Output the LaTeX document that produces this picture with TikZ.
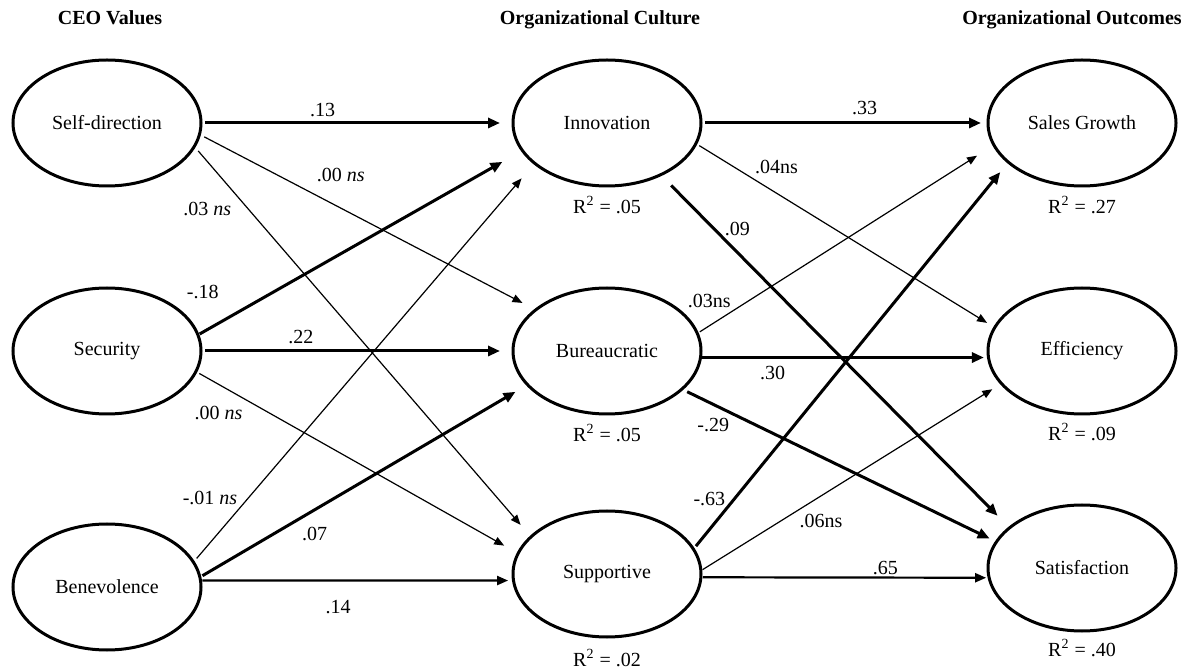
\documentclass[tikz,border=0pt]{standalone}
\usepackage{fontspec}
\setmainfont{Liberation Serif}
\usepackage{tikz}
\usetikzlibrary{shapes, arrows.meta, positioning}
\tikzset{
    construct/.style={
        ellipse,
        draw=black,
        line width=1.5pt,
        minimum width=94pt,
        minimum height=63pt,
        inner sep=0pt,
        outer sep=0pt,
    },
    heading/.style={
        font=\bfseries,
    },
    rsq/.style={
        inner sep=1pt,
    },
    coef/.style={
        inner sep=1pt,
    },
    sig/.style={
        line width=1.5pt,
        -{Triangle[length=6pt,width=5pt]},
    },
    medsig/.style={
        line width=1.1pt,
        -{Triangle[length=5.5pt,width=4.5pt]},
    },
    nsig/.style={
        line width=0.6pt,
        -{Triangle[length=5pt,width=4pt]},
    },
}

\begin{document}
\begin{tikzpicture}[on grid]
      \useasboundingbox (-53.5pt,61.5pt) rectangle (541pt,-272.5pt);
      \node[construct] (sd) {Self-direction};
      \node[construct, below=114pt of sd] (sec) {Security};
      \node[construct, below=118pt of sec] (ben) {Benevolence};
      \node[construct, right=250pt of sd] (inn) {Innovation};
      \node[construct, right=250pt of sec] (bur) {Bureaucratic};
      \node[construct, below=111.5pt of bur] (sup) {Supportive};
      \node[construct, right=237.5pt of inn] (sg) {Sales Growth};
      \node[construct, right=237.5pt of bur] (eff) {Efficiency};
      \node[construct, below=108.5pt of eff] (sat) {Satisfaction};

      \node[heading, above=52.5pt of sd, xshift=1.5pt] (ceo) {CEO Values};
      \node[heading, above=51.5pt of inn, xshift=-3.5pt] (cult) {Organizational Culture};
      \node[heading, above=51.5pt of sg, xshift=-5pt] (outc) {Organizational Outcomes};

      \node[rsq, below=41pt of inn] (inn-r) {R\textsuperscript{2} = .05};
      \node[rsq, below=41pt of bur] (bur-r) {R\textsuperscript{2} = .05};
      \node[rsq, below=42pt of sup] (sup-r) {R\textsuperscript{2} = .02};
      \node[rsq, below=41pt of sg] (sg-r) {R\textsuperscript{2} = .27};
      \node[rsq, below=40.5pt of eff] (eff-r) {R\textsuperscript{2} = .09};
      \node[rsq, below=40pt of sat] (sat-r) {R\textsuperscript{2} = .40};

      \draw[sig, shorten <=2pt, shorten >=6.5pt] (sd.east) -- (inn.west) node[coef, pos=.39, yshift=6.5pt] {.13};
      \draw[nsig, shorten <=2.7pt, shorten >=7.5pt] (sd.-7) -- (bur.150) node[coef, pos=.42, yshift=16.3pt] {.00 \textit{ns}};
      \draw[nsig, shorten <=3pt, shorten >=8pt] (sd.-15) -- (sup.154) node[coef, pos=.16, xshift=-20.5pt] {.03 \textit{ns}};
      \draw[sig, shorten <=1pt, shorten >=11.5pt] (sec.10) -- (inn.-162) node[coef, pos=.015, yshift=20pt] {-.18};
      \draw[sig, shorten <=2pt, shorten >=6.5pt] (sec.east) -- (bur.west) node[coef, pos=.32, yshift=7pt] {.22};
      \draw[nsig, shorten <=2pt, shorten >=8pt] (sec.-13) -- (sup.167) node[coef, pos=.07, yshift=-14.3pt] {.00 \textit{ns}};
      \draw[nsig, shorten <=2.5pt, shorten >=10pt] (ben.16) -- (inn.-151) node[coef, pos=.16, xshift=-19pt] {-.01 \textit{ns}};
      \draw[sig, shorten <=1.5pt, shorten >=7pt] (ben.6) -- (bur.-157) node[coef, pos=.35, yshift=-12pt] {.07};
      \draw[medsig, shorten <=1pt, shorten >=2.7pt] (ben.4) -- (sup.184) node[coef, pos=.44, yshift=-13.5pt] {.14};

      \draw[sig, shorten <=2pt, shorten >=3.5pt] (inn.east) -- (sg.west) node[coef, pos=.57, yshift=7.5pt] {.33};
      \draw[nsig, shorten <=2pt, shorten >=4.5pt] (inn.-13) -- (eff.165) node[coef, pos=.27, yshift=13.3pt] {.04ns};
      \draw[sig, shorten <=7.5pt, shorten >=8.5pt] (inn.-44) -- (sat.151) node[coef, pos=.22, yshift=11.8pt] {.09};
      \draw[nsig, shorten <=1.5pt, shorten >=10pt] (bur.11) -- (sg.-166) node[coef, pos=.04, yshift=12.7pt] {.03ns};
      \draw[sig, shorten <=1pt, shorten >=2.3pt] (bur.-4) -- (eff.184) node[coef, pos=.25, yshift=-7.5pt] {.30};
      \draw[sig, shorten <=3pt, shorten >=3.8pt] (bur.-27) -- (sat.163) node[coef, pos=.1, yshift=-10.3pt] {-.29};
      \draw[sig, shorten <=2pt, shorten >=6.4pt] (sup.16) -- (sg.-152) node[coef, pos=.13, xshift=-12.5pt] {-.63};
      \draw[nsig, shorten <=1pt, shorten >=5.4pt] (sup.2) -- (eff.-158) node[coef, pos=.4, yshift=-12.7pt] {.06ns};
      \draw[medsig, shorten <=1pt, shorten >=1.5pt] (sup.-2) -- (sat.186) node[coef, pos=.64, yshift=5pt] {.65};
\end{tikzpicture}
\end{document}
